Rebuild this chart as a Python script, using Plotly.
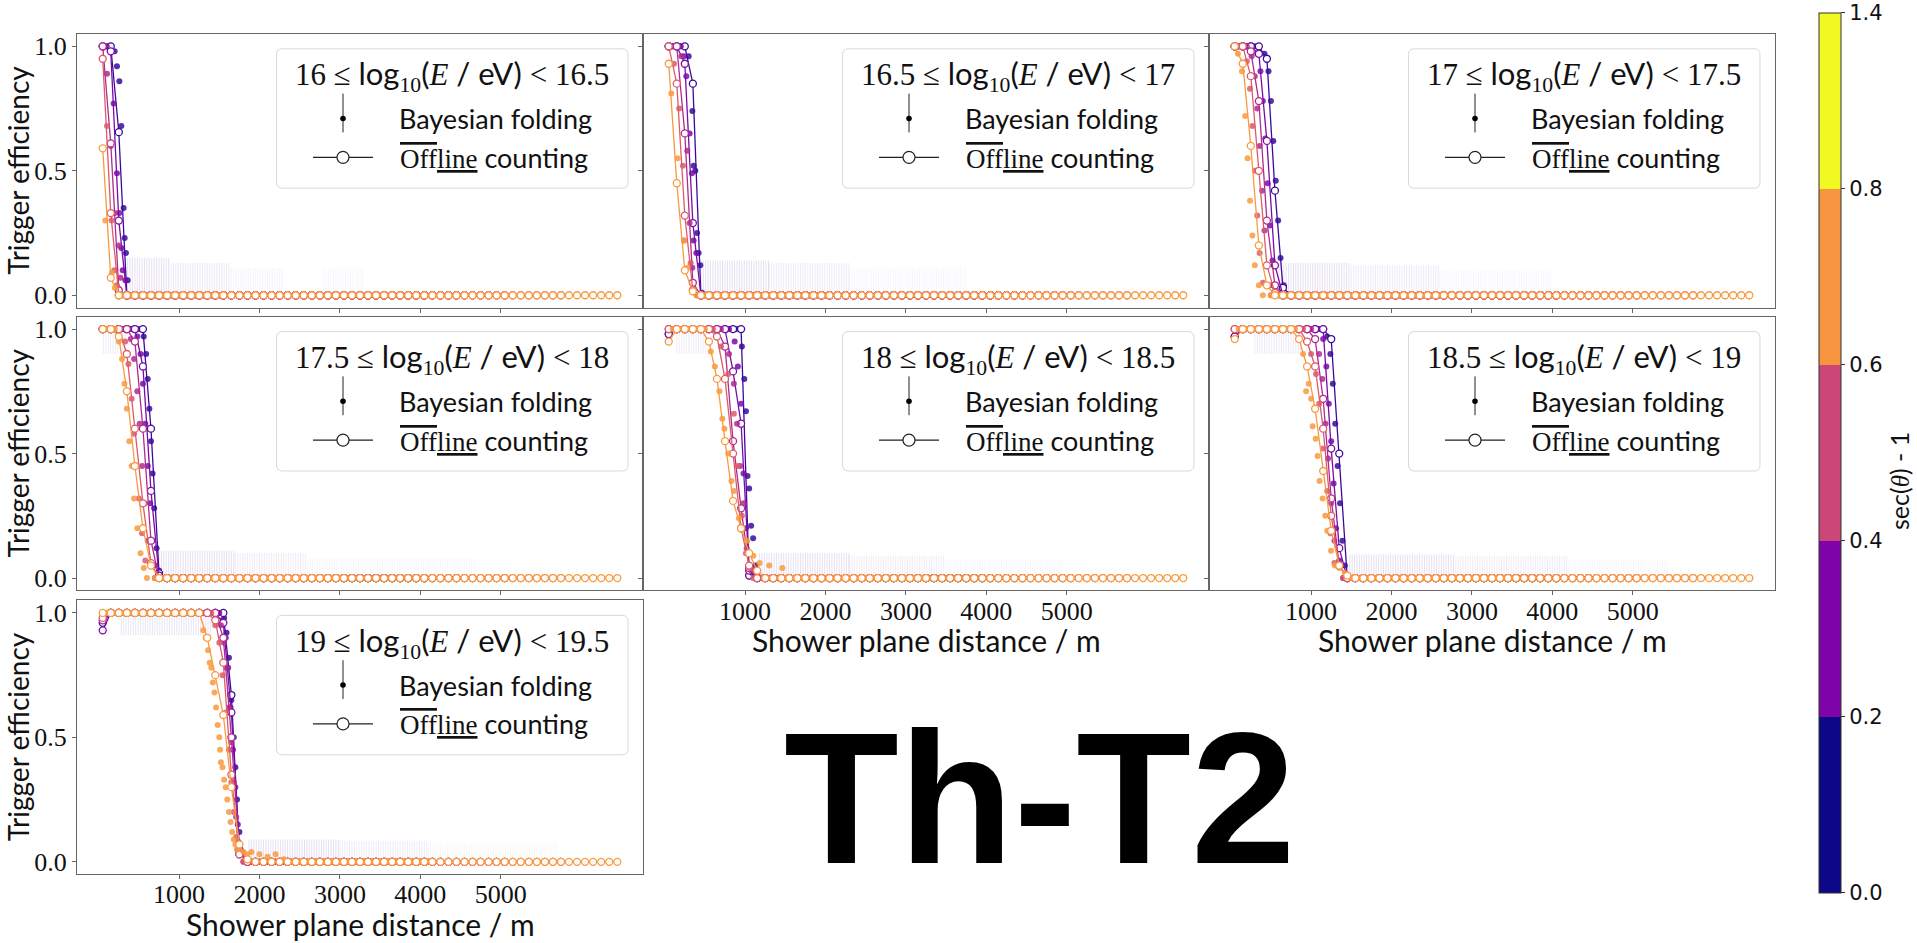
import numpy as np
import plotly.graph_objects as go

W, H = 1917, 943
SANS = "Lato"
SERIF = "Liberation Serif"

# ---------------- data ----------------
energy_bins = [("16", "16.5"), ("16.5", "17"), ("17", "17.5"), ("17.5", "18"),
               ("18", "18.5"), ("18.5", "19"), ("19", "19.5")]
zenith_colors = ['#3a0a9c', '#7a0ba8', '#b02a8f', '#dc5b6a', '#f99a3e']
cbar_colors = ['#0d0887', '#7e03a8', '#cc4778', '#f89540', '#f0f921']
cbar_ticktext = ['0.0', '0.2', '0.4', '0.6', '0.8', '1.4']
x_ticks = [1000, 2000, 3000, 4000, 5000]
y_ticks = [0.0, 0.5, 1.0]
y_ticktext = ['0.0', '0.5', '1.0']

offline_bins = np.arange(50, 6500, 100)       # Offline counting bin centres / m
bayes_grid = np.arange(100, 6500, 100)        # Bayesian folding grid between them / m

# Offline counting efficiencies (from x = 50 m, step 100 m) per zenith bin
off_p1 = [[1.0, 1.0, 0.655, 0.0],
          [1.0, 0.98, 0.30, 0.0],
          [1.0, 0.61, 0.02, 0.0],
          [0.95, 0.33, 0.0],
          [0.59, 0.07, 0.0]]
off_p2 = [[1.0, 1.0, 1.0, 0.85, 0.0],
          [1.0, 1.0, 0.93, 0.29, 0.0],
          [1.0, 1.0, 0.65, 0.05, 0.0],
          [1.0, 0.85, 0.32, 0.02, 0.0],
          [0.93, 0.45, 0.10, 0.016, 0.0]]
off_p3 = [[1.0, 1.0, 1.0, 1.0, 0.95, 0.42, 0.03, 0.0],
          [1.0, 1.0, 1.0, 0.97, 0.62, 0.12, 0.0],
          [1.0, 1.0, 0.98, 0.78, 0.30, 0.04, 0.0],
          [1.0, 1.0, 0.88, 0.50, 0.12, 0.01, 0.0],
          [1.0, 0.93, 0.60, 0.20, 0.04, 0.0]]
off_p4 = [[1.0] * 6 + [0.60, 0.02, 0.0],
          [1.0] * 5 + [0.85, 0.35, 0.01, 0.0],
          [1.0] * 4 + [0.95, 0.60, 0.15, 0.0],
          [1.0] * 3 + [0.90, 0.60, 0.30, 0.06, 0.0],
          [1.0, 1.0, 0.97, 0.75, 0.45, 0.20, 0.05, 0.0]]
off_p5 = [[0.98] + [1.0] * 9 + [0.01, 0.0],
          [0.98] + [1.0] * 7 + [0.83, 0.62, 0.03, 0.0],
          [1.0] * 7 + [0.93, 0.55, 0.28, 0.04, 0.0],
          [1.0] * 6 + [0.97, 0.80, 0.50, 0.20, 0.05, 0.0],
          [0.95] + [1.0] * 4 + [0.95, 0.80, 0.55, 0.31, 0.20, 0.10, 0.03, 0.0]]
off_p6 = [[0.97] + [1.0] * 11 + [0.96, 0.50, 0.0],
          [0.97] + [1.0] * 11 + [0.52, 0.12, 0.0],
          [1.0] * 10 + [0.96, 0.72, 0.32, 0.05, 0.0],
          [1.0] * 9 + [0.95, 0.85, 0.60, 0.25, 0.05, 0.0],
          [0.96] + [1.0] * 7 + [0.96, 0.85, 0.68, 0.43, 0.19, 0.05, 0.01, 0.0]]
off_p7 = [[0.96] + [1.0] * 15 + [0.67, 0.03, 0.0],
          [0.93] + [1.0] * 14 + [0.96, 0.60, 0.05, 0.0],
          [0.97] + [1.0] * 14 + [0.90, 0.50, 0.04, 0.0],
          [0.98] + [1.0] * 13 + [0.97, 0.80, 0.35, 0.03, 0.0],
          [1.0] * 13 + [0.90, 0.75, 0.59, 0.30, 0.07, 0.01, 0.0]]
offline_vals = [off_p1, off_p2, off_p3, off_p4, off_p5, off_p6, off_p7]
offline_last_x = [4050, 4450, 5050, 5750, 6450]   # last zero bin per zenith bin

# Bayesian folding points in the transition region
bay_x_p1 = [[198, 227, 257, 281, 310, 323, 339, 360], [186, 227, 257, 281, 298, 331],
            [103, 150, 200, 248, 270], [103, 160, 194, 227], [82, 165, 200]]
bay_y_p1 = [[0.98, 0.92, 0.86, 0.68, 0.35, 0.23, 0.17, 0.06], [0.77, 0.49, 0.33, 0.19, 0.10, 0.06],
            [0.89, 0.60, 0.33, 0.20, 0.07], [0.68, 0.30, 0.10, 0.04], [0.30, 0.09, 0.03]]
bay_x_p2 = [[298, 344, 360, 381, 402, 422, 443, 464], [236, 269, 310, 339, 360, 393],
            [207, 261, 281, 310, 344], [116, 180, 227, 240, 323], [82, 160, 240, 281]]
bay_y_p2 = [[0.96, 0.74, 0.52, 0.50, 0.25, 0.17, 0.12, 0.01], [0.96, 0.88, 0.65, 0.49, 0.22, 0.17],
            [0.96, 0.65, 0.58, 0.29, 0.11], [0.93, 0.75, 0.52, 0.22, 0.13], [0.81, 0.55, 0.22, 0.11]]
bay_x_p3 = [[420, 470, 500, 530, 560, 590, 620, 660], [330, 370, 400, 430, 460, 490, 520, 560],
            [260, 300, 330, 360, 390, 420, 450, 490], [200, 240, 270, 300, 330, 360, 400],
            [90, 140, 180, 210, 240, 270, 300, 350]]
bay_y_p3 = [[0.97, 0.90, 0.78, 0.62, 0.46, 0.30, 0.15, 0.04], [0.97, 0.90, 0.78, 0.63, 0.45, 0.28, 0.14, 0.04],
            [0.96, 0.88, 0.75, 0.60, 0.42, 0.26, 0.12, 0.04], [0.94, 0.83, 0.68, 0.50, 0.32, 0.17, 0.05],
            [0.97, 0.90, 0.72, 0.55, 0.38, 0.24, 0.12, 0.04]]
bay_x_p4 = [[560, 590, 610, 630, 650, 670, 690, 720, 750], [480, 520, 550, 580, 610, 640, 670, 700],
            [400, 440, 480, 510, 540, 570, 610, 650], [330, 370, 410, 440, 470, 500, 540, 580],
            [250, 290, 320, 350, 380, 410, 440, 480, 520, 560]]
bay_y_p4 = [[0.97, 0.90, 0.80, 0.68, 0.55, 0.42, 0.28, 0.12, 0.03], [0.97, 0.90, 0.78, 0.62, 0.45, 0.30, 0.15, 0.05],
            [0.96, 0.88, 0.75, 0.62, 0.45, 0.30, 0.15, 0.05], [0.95, 0.86, 0.72, 0.58, 0.45, 0.32, 0.18, 0.07],
            [0.95, 0.88, 0.78, 0.68, 0.55, 0.45, 0.32, 0.20, 0.10, 0.04]]
bay_x_p5 = [[960, 990, 1010, 1030, 1050, 1075, 1100, 1130], [870, 910, 950, 980, 1010, 1040, 1090],
            [800, 860, 900, 940, 980, 1020, 1080], [700, 790, 860, 910, 960, 1010, 1060],
            [573, 624, 680, 717, 743, 790, 830, 861, 923, 964, 1026, 1103, 1180, 1300, 1463]]
bay_y_p5 = [[0.93, 0.80, 0.67, 0.41, 0.36, 0.21, 0.16, 0.05], [0.95, 0.85, 0.70, 0.42, 0.20, 0.10, 0.02],
            [0.90, 0.78, 0.62, 0.45, 0.30, 0.12, 0.03], [0.93, 0.82, 0.66, 0.45, 0.25, 0.10, 0.04],
            [0.91, 0.85, 0.75, 0.64, 0.60, 0.50, 0.39, 0.35, 0.24, 0.20, 0.15, 0.09, 0.06, 0.05, 0.04]]
bay_x_p6 = [[1200, 1240, 1270, 1300, 1330, 1360, 1390, 1420], [1150, 1190, 1220, 1250, 1280, 1310, 1350],
            [1100, 1140, 1180, 1210, 1250, 1290, 1330], [1000, 1060, 1100, 1150, 1200, 1240, 1290],
            [900, 938, 970, 1000, 1019, 1057, 1081, 1105, 1143, 1176, 1200, 1248, 1296, 1350, 1420]]
bay_y_p6 = [[0.97, 0.90, 0.78, 0.62, 0.45, 0.30, 0.15, 0.05], [0.96, 0.85, 0.70, 0.55, 0.38, 0.20, 0.07],
            [0.90, 0.80, 0.62, 0.48, 0.30, 0.15, 0.05], [0.90, 0.82, 0.70, 0.52, 0.35, 0.18, 0.06],
            [0.90, 0.75, 0.78, 0.72, 0.61, 0.56, 0.49, 0.39, 0.32, 0.25, 0.19, 0.11, 0.05, 0.04, 0.02]]
bay_x_p7 = [[1560, 1590, 1620, 1650, 1680, 1700, 1720, 1750, 1780],
            [1540, 1580, 1610, 1640, 1670, 1700, 1730, 1760],
            [1520, 1560, 1590, 1620, 1650, 1680, 1710, 1740, 1770],
            [1450, 1500, 1540, 1580, 1620, 1650, 1680, 1710, 1740],
            [1300, 1330, 1360, 1380, 1400, 1420, 1440, 1460, 1480, 1500, 1510, 1520, 1540, 1560, 1580,
             1600, 1620, 1640, 1660, 1680, 1700, 1720, 1750, 1800, 1850, 1900, 2000, 2100, 2200, 2300]]
bay_y_p7 = [[0.98, 0.92, 0.82, 0.65, 0.50, 0.38, 0.25, 0.12, 0.04],
            [0.97, 0.90, 0.78, 0.62, 0.45, 0.30, 0.15, 0.05],
            [0.95, 0.88, 0.78, 0.62, 0.48, 0.32, 0.18, 0.08, 0.03],
            [0.95, 0.88, 0.75, 0.60, 0.45, 0.32, 0.20, 0.10, 0.04],
            [0.93, 0.90, 0.85, 0.80, 0.78, 0.72, 0.68, 0.62, 0.55, 0.50, 0.45, 0.40, 0.38, 0.33, 0.30,
             0.25, 0.20, 0.16, 0.12, 0.09, 0.07, 0.05, 0.06, 0.04, 0.03, 0.04, 0.03, 0.02, 0.03, 0.01]]
bayes_x = [bay_x_p1, bay_x_p2, bay_x_p3, bay_x_p4, bay_x_p5, bay_x_p6, bay_x_p7]
bayes_y = [bay_y_p1, bay_y_p2, bay_y_p3, bay_y_p4, bay_y_p5, bay_y_p6, bay_y_p7]
bayes_tail_end = [1500, 2000, 2600, 3000, 3200, 3500, 4100]

# Faint Bayesian uncertainty bands: (x from, x to, y low, y high, opacity)
haze_p1 = [(330, 900, 0.0, 0.15, 0.20), (900, 1650, 0.0, 0.13, 0.14),
           (1650, 2300, 0.0, 0.11, 0.07), (2800, 3300, 0.0, 0.11, 0.06)]
haze_p2 = [(450, 1300, 0.0, 0.14, 0.20), (1300, 2300, 0.0, 0.13, 0.13),
           (2300, 3750, 0.0, 0.11, 0.06)]
haze_p3 = [(600, 1500, 0.0, 0.13, 0.20), (1500, 2600, 0.0, 0.12, 0.13),
           (2600, 4000, 0.0, 0.10, 0.06)]
haze_p4 = [(60, 350, 0.9, 1.0, 0.12), (750, 1700, 0.0, 0.11, 0.20), (1700, 2600, 0.0, 0.10, 0.12),
           (2600, 4700, 0.0, 0.08, 0.06)]
haze_p5 = [(150, 520, 0.9, 1.0, 0.12), (1180, 2300, 0.0, 0.10, 0.20), (2300, 3500, 0.0, 0.09, 0.12),
           (3500, 4950, 0.0, 0.07, 0.06)]
haze_p6 = [(300, 900, 0.9, 1.0, 0.14), (1480, 2800, 0.0, 0.095, 0.20), (2800, 4200, 0.0, 0.09, 0.12),
           (4200, 5450, 0.0, 0.07, 0.06)]
haze_p7 = [(280, 1410, 0.91, 1.0, 0.16), (1870, 3000, 0.0, 0.09, 0.20), (3000, 4100, 0.0, 0.085, 0.12),
           (4100, 5700, 0.0, 0.075, 0.06)]
haze = [haze_p1, haze_p2, haze_p3, haze_p4, haze_p5, haze_p6, haze_p7]

# ---------------- layout geometry (pixels) ----------------
col_px = [(77, 643), (643, 1209), (1209, 1775)]
row_px = [(33, 308), (317, 592), (602, 877)]
panel_cells = [(0, 0), (0, 1), (0, 2), (1, 0), (1, 1), (1, 2), (2, 0)]
X_RANGE = [-270, 6770]
Y_RANGE = [-0.05, 1.05]


def px(x):
    return x / W


def py(y):
    return 1 - y / H


fig = go.Figure()
layout = dict(width=W, height=H, margin=dict(l=0, r=0, t=0, b=0),
              paper_bgcolor='white', plot_bgcolor='white', showlegend=False)
annotations = []
shapes = []

for p, (r, c) in enumerate(panel_cells):
    sfx = '' if p == 0 else str(p + 1)
    xa, ya = 'x' + sfx, 'y' + sfx
    x0, x1 = col_px[c]
    y0, y1 = row_px[r]
    layout['xaxis' + sfx] = dict(domain=[px(x0), px(x1)], anchor=ya, range=X_RANGE,
                                 showline=True, mirror=True, linecolor='#666', linewidth=1,
                                 ticks='outside', ticklen=4, tickcolor='#666', tickvals=x_ticks,
                                 showticklabels=p in (4, 5, 6), showgrid=False, zeroline=False,
                                 ticklabelstandoff=-7,
                                 tickfont=dict(family=SERIF, size=26, color='#111'))
    layout['yaxis' + sfx] = dict(domain=[py(y1), py(y0)], anchor=xa, range=Y_RANGE,
                                 showline=True, mirror=True, linecolor='#666', linewidth=1,
                                 ticks='outside', ticklen=4, tickcolor='#666', tickvals=y_ticks,
                                 ticktext=y_ticktext, showticklabels=p in (0, 3, 6),
                                 showgrid=False, zeroline=False,
                                 tickfont=dict(family=SERIF, size=26, color='#111'))

    # faint uncertainty bands
    for (hx0, hx1, hlo, hhi, hop) in haze[p]:
        hx = np.arange(hx0, hx1, 30)
        fig.add_trace(go.Scatter(
            x=hx, y=np.full(len(hx), hlo), xaxis=xa, yaxis=ya, mode='markers',
            marker=dict(size=1, color='rgba(0,0,0,0)'), hoverinfo='skip',
            error_y=dict(type='data', symmetric=False, array=np.full(len(hx), hhi - hlo),
                         arrayminus=np.zeros(len(hx)), color=f'rgba(130,100,190,{hop})',
                         thickness=1, width=0)))

    for k in range(5):
        col = zenith_colors[k]
        bx = list(bayes_x[p][k])
        by = list(bayes_y[p][k])
        plateau = [int(v) for v in bayes_grid if v < bx[0] - 30]
        tail = [int(v) for v in bayes_grid if bx[-1] + 30 < v <= bayes_tail_end[p]]
        fig.add_trace(go.Scatter(
            x=plateau + bx + tail, y=[1.0] * len(plateau) + by + [0.0] * len(tail),
            xaxis=xa, yaxis=ya, mode='markers',
            marker=dict(size=6, color=col, opacity=0.85, line=dict(width=0)), hoverinfo='skip'))

        oy = list(offline_vals[p][k])
        n_zero = int((offline_last_x[k] - offline_bins[len(oy) - 1]) // 100)
        oy = oy + [0.0] * n_zero
        fig.add_trace(go.Scatter(
            x=offline_bins[:len(oy)], y=oy, xaxis=xa, yaxis=ya, mode='lines+markers',
            line=dict(color=col, width=1.3),
            marker=dict(symbol='circle', size=7, color='white', line=dict(color=col, width=1.3)),
            hoverinfo='skip'))

    # legend box
    bx0, bx1 = x0 + 199.5, x1 - 15
    by0, by1 = y0 + 15, y0 + 155
    rr = 6
    pts = [(bx0 + rr, by0), (bx1 - rr, by0), (bx1, by0), (bx1, by0 + rr), (bx1, by1 - rr), (bx1, by1),
           (bx1 - rr, by1), (bx0 + rr, by1), (bx0, by1), (bx0, by1 - rr), (bx0, by0 + rr), (bx0, by0),
           (bx0 + rr, by0)]
    P = [f"{px(a):.6f},{py(b):.6f}" for a, b in pts]
    path = (f"M {P[0]} L {P[1]} Q {P[2]} {P[3]} L {P[4]} Q {P[5]} {P[6]} L {P[7]} "
            f"Q {P[8]} {P[9]} L {P[10]} Q {P[11]} {P[12]} Z")
    shapes.append(dict(type='path', path=path, xref='paper', yref='paper',
                       line=dict(color='#d8d8d8', width=1), fillcolor='rgba(255,255,255,0.85)',
                       layer='above'))
    hx = x0 + 266
    # Bayesian handle: vertical error bar with dot
    shapes.append(dict(type='line', xref='paper', yref='paper', x0=px(hx), x1=px(hx),
                       y0=py(y0 + 60), y1=py(y0 + 99), line=dict(color='#222', width=1)))
    shapes.append(dict(type='circle', xref='paper', yref='paper', x0=px(hx - 2.8), x1=px(hx + 2.8),
                       y0=py(y0 + 85 - 2.8), y1=py(y0 + 85 + 2.8), fillcolor='black',
                       line=dict(color='black', width=0)))
    # Offline handle: line with open circle
    shapes.append(dict(type='line', xref='paper', yref='paper', x0=px(hx - 30), x1=px(hx + 30),
                       y0=py(y0 + 124), y1=py(y0 + 124), line=dict(color='#222', width=1.2)))
    shapes.append(dict(type='circle', xref='paper', yref='paper', x0=px(hx - 6), x1=px(hx + 6),
                       y0=py(y0 + 124 - 6), y1=py(y0 + 124 + 6), fillcolor='white',
                       line=dict(color='#222', width=1.2)))

    lo, hi = energy_bins[p]
    title = (f"<span style='font-family:{SERIF}'>{lo} ≤ </span>log"
             f"<sub><span style='font-family:{SERIF}'>10</span></sub>"
             f"(<span style='font-family:{SERIF}'><i>E</i></span> / eV) "
             f"<span style='font-family:{SERIF}'>&lt; {hi}</span>")
    annotations.append(dict(x=px((bx0 + bx1) / 2), y=py(y0 + 42), xref='paper', yref='paper',
                            text=title, showarrow=False, xanchor='center', yanchor='middle',
                            font=dict(family=SANS, size=31, color='#111')))
    annotations.append(dict(x=px(x0 + 320), y=py(y0 + 85), xref='paper', yref='paper',
                            text='Bayesian folding', showarrow=False, xanchor='left', yanchor='middle',
                            font=dict(family=SANS, size=27, color='#111')))
    off_txt = (f"<span style='font-family:{SERIF};text-decoration:overline'>Off</span>"
               f"<span style='font-family:{SERIF};text-decoration:underline'>line</span> counting")
    annotations.append(dict(x=px(x0 + 321), y=py(y0 + 124), xref='paper', yref='paper',
                            text=off_txt, showarrow=False, xanchor='left', yanchor='middle',
                            font=dict(family=SANS, size=27, color='#111')))

# axis titles
for r in range(3):
    y0, y1 = row_px[r]
    annotations.append(dict(x=px(18), y=py((y0 + y1) / 2), xref='paper', yref='paper',
                            text='Trigger efficiency', textangle=-90, showarrow=False,
                            xanchor='center', yanchor='middle',
                            font=dict(family=SANS, size=28, color='#111')))
for (r, c) in [(1, 1), (1, 2), (2, 0)]:
    x0, x1 = col_px[c]
    y0, y1 = row_px[r]
    annotations.append(dict(x=px((x0 + x1) / 2), y=py(y1 + 50), xref='paper', yref='paper',
                            text='Shower plane distance / m', showarrow=False,
                            xanchor='center', yanchor='middle',
                            font=dict(family=SANS, size=30, color='#111')))

# big label
annotations.append(dict(x=px(1040), y=py(800), xref='paper', yref='paper', text='<b>Th-T2</b>',
                        showarrow=False, xanchor='center', yanchor='middle',
                        font=dict(family='Liberation Sans', size=188, color='black')))

# colour bar
cscale = []
for i, ccol in enumerate(cbar_colors):
    cscale.append([i / 5, ccol])
    cscale.append([(i + 1) / 5, ccol])
fig.add_trace(go.Scatter(
    x=[None], y=[None], mode='markers', xaxis='x', yaxis='y', hoverinfo='skip',
    marker=dict(color=[0], cmin=0, cmax=5, colorscale=cscale, showscale=True,
                colorbar=dict(x=px(1819), xanchor='left', xpad=0, ypad=0,
                              y=py(12), yanchor='top', lenmode='pixels', len=880,
                              thicknessmode='pixels', thickness=22,
                              tickvals=[0, 1, 2, 3, 4, 5], ticktext=cbar_ticktext,
                              ticks='outside', ticklen=4, tickcolor='#333',
                              outlinecolor='#333', outlinewidth=1,
                              tickfont=dict(family='DejaVu Sans', size=21, color='#111')))))
annotations.append(dict(x=px(1899), y=py(482), xref='paper', yref='paper',
                        text=f"sec(<span style='font-family:{SERIF}'><i>θ</i></span>) - 1",
                        textangle=-90, showarrow=False, xanchor='center', yanchor='middle',
                        font=dict(family=SANS, size=25, color='#111')))

layout['annotations'] = annotations
layout['shapes'] = shapes
fig.update_layout(**layout)

fig.write_html("out.html", config={'displayModeBar': False},
               post_script="document.body.style.margin='0';document.body.style.overflow='hidden';")
